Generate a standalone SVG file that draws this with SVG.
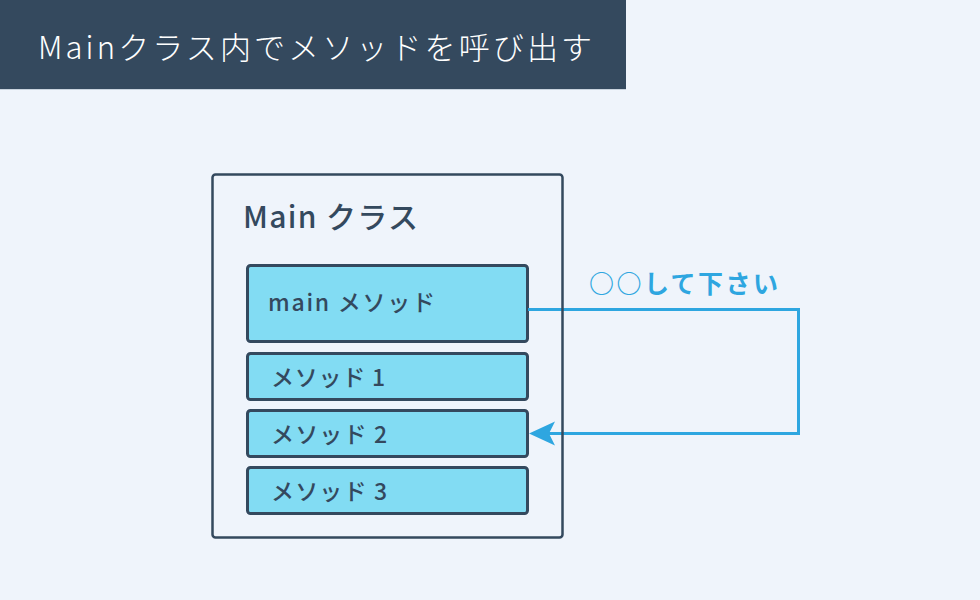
<svg xmlns="http://www.w3.org/2000/svg" width="980" height="600" viewBox="0 0 980 600">
<defs>
<style>
.title{font-family:"Noto Sans CJK JP","Noto Sans",sans-serif;font-size:31px;font-weight:300;fill:#ffffff}
.cls{font-family:"Noto Sans CJK JP","Noto Sans",sans-serif;font-size:30px;font-weight:500;fill:#34495e}
.mt{font-family:"Noto Sans CJK JP","Noto Sans",sans-serif;font-size:23px;font-weight:500;fill:#34495e}
.meth{fill:#82dcf3;stroke:#34495e;stroke-width:3}
.conn{fill:none;stroke:#2ea6e0;stroke-width:3}
.lbl{font-family:"Noto Sans CJK JP","Noto Sans",sans-serif;font-size:25px;font-weight:700;fill:#2ea6e0}
</style>
</defs>
<rect x="0" y="0" width="980" height="600" fill="#eff4fb"/>
<g id="title">
<rect x="0" y="0" width="626" height="90" fill="#c9d3de"/>
<rect x="0" y="0" width="626" height="89" fill="#34495e"/>
<text class="title" x="38" y="59" textLength="554" lengthAdjust="spacing">Mainクラス内でメソッドを呼び出す</text>
</g>
<g id="main-class">
<text class="cls" x="243" y="228" textLength="175" lengthAdjust="spacing">Main クラス</text>
</g>
<g id="main-method">
<rect class="meth" x="247.5" y="265.5" width="280" height="76" rx="3"/>
<text class="mt" x="268" y="311" textLength="167" lengthAdjust="spacing">main メソッド</text>
</g>
<g id="method1">
<rect class="meth" x="247.5" y="353.5" width="280" height="46" rx="3"/>
<text class="mt" x="271" y="386" textLength="114" lengthAdjust="spacing">メソッド 1</text>
</g>
<g id="method2">
<rect class="meth" x="247.5" y="410.5" width="280" height="46" rx="3"/>
<text class="mt" x="271" y="443" textLength="116" lengthAdjust="spacing">メソッド 2</text>
</g>
<g id="method3">
<rect class="meth" x="247.5" y="467.5" width="280" height="46" rx="3"/>
<text class="mt" x="271" y="500" textLength="116" lengthAdjust="spacing">メソッド 3</text>
</g>
<g id="connectors">
<polyline class="conn" points="528,309.5 798.5,309.5 798.5,433.5 548,433.5"/>
<polygon points="529,433.5 555,421.5 549,433.5 555,445.5" fill="#2ea6e0"/>
<text class="lbl" x="589" y="293" textLength="189" lengthAdjust="spacing">○○して下さい</text>
</g>
<g id="main-class-border">
<rect x="212.5" y="174.5" width="350" height="363" rx="3" fill="none" stroke="#34495e" stroke-width="2.5"/>
</g>
</svg>
